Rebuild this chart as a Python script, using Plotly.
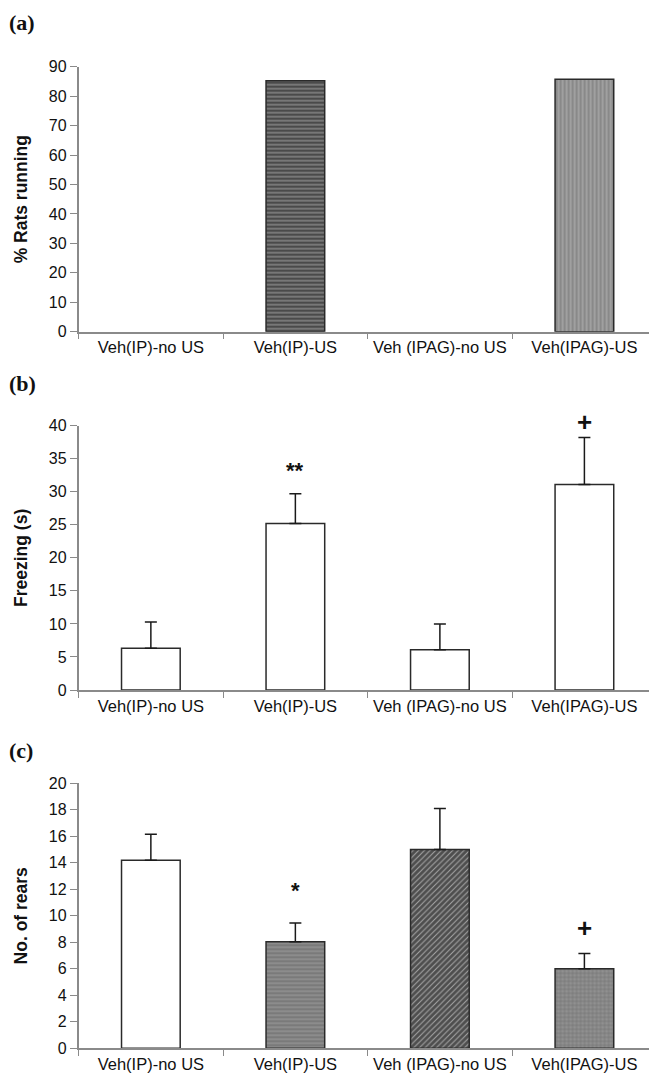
import plotly.graph_objects as go
from plotly.subplots import make_subplots

categories = ["Veh(IP)-no US", "Veh(IP)-US", "Veh (IPAG)-no US", "Veh(IPAG)-US"]

running_pct = [0, 85.2, 0, 85.7]

freezing_mean = [6.3, 25.2, 6.1, 31.1]
freezing_sem = [4.0, 4.5, 3.9, 7.1]

rears_mean = [14.2, 8.05, 15.0, 6.0]
rears_sem = [1.95, 1.4, 3.1, 1.15]

freezing_marks = ["", "**", "", "+"]
freezing_mark_y = [0, 33.2, 0, 40.6]
rears_marks = ["", "*", "", "+"]
rears_mark_y = [0, 11.9, 0, 9.1]

H = 1081.0
def py(px):
    return 1 - px / H

fig = make_subplots(rows=3, cols=1)

xdom = [78.6 / 649, 1.0]
ydoms = [
    [py(331.7), py(66.7)],
    [py(690.0), py(425.7)],
    [py(1048.3), py(783.3)],
]

bar_w = 0.406
lw_a = [0 if v == 0 else 1.5 for v in running_pct]

# (a)
fig.add_trace(go.Bar(
    x=categories, y=running_pct, width=bar_w,
    marker=dict(
        color=["white", "#4a4a4a", "white", "#a0a0a0"],
        line=dict(color="#2a2a2a", width=lw_a),
        pattern=dict(shape=["", "-", "", "|"],
                     fgcolor=["#ffffff", "#9a9a9a", "#ffffff", "#d2d2d2"],
                     size=4, solidity=0.25),
    ),
    showlegend=False,
), row=1, col=1)

# (b)
fig.add_trace(go.Bar(
    x=categories, y=freezing_mean, width=bar_w,
    marker=dict(color="white", line=dict(color="#2a2a2a", width=1.5)),
    error_y=dict(type="data", array=freezing_sem, arrayminus=[0, 0, 0, 0],
                 symmetric=False, color="#1a1a1a", thickness=1.5, width=6),
    showlegend=False,
), row=2, col=1)

# (c)
fig.add_trace(go.Bar(
    x=categories, y=rears_mean, width=bar_w,
    marker=dict(
        color=["white", "#8c8c8c", "#4e4e4e", "#909090"],
        line=dict(color="#2a2a2a", width=1.5),
        pattern=dict(shape=["", "-", "/", "+"],
                     fgcolor=["#ffffff", "#c4c4c4", "#b0b0b0", "#c8c8c8"],
                     size=4, solidity=0.25),
    ),
    error_y=dict(type="data", array=rears_sem, arrayminus=[0, 0, 0, 0],
                 symmetric=False, color="#1a1a1a", thickness=1.5, width=6),
    showlegend=False,
), row=3, col=1)

xtickfont = dict(family="Liberation Sans, Arial", size=16.5, color="#111111")
ytickfont = dict(family="Liberation Sans, Arial", size=16, color="#111111")
titlefont = dict(family="Liberation Sans, Arial", size=17.5, color="#111111")

ytitles = ["<b>% Rats running</b>", "<b>Freezing (s)</b>", "<b>No. of rears</b>"]
yranges = [[0, 90], [0, 40], [0, 20]]
ydticks = [10, 5, 2]

for i in range(3):
    r = i + 1
    fig.update_xaxes(
        row=r, col=1, domain=xdom, type="category", range=[-0.5, 3.447],
        showline=True, linecolor="#8a8a8a", linewidth=1.5,
        ticks="outside", tickson="boundaries", ticklen=6, tickcolor="#8a8a8a",
        tickfont=xtickfont, tickangle=0, showgrid=False, zeroline=False, automargin=False,
    )
    fig.update_yaxes(
        row=r, col=1, domain=ydoms[i], range=yranges[i], dtick=ydticks[i],
        showline=True, linecolor="#8a8a8a", linewidth=1.5,
        ticks="outside", ticklen=7, tickcolor="#8a8a8a",
        tickfont=ytickfont, showgrid=False, zeroline=False, automargin=False,
        title=dict(text=ytitles[i], font=titlefont, standoff=17),
    )

# panel letters
for lab, ypx in [("(a)", 22), ("(b)", 383), ("(c)", 750)]:
    fig.add_annotation(
        text="<b>" + lab + "</b>", xref="paper", yref="paper",
        x=7 / 649, y=py(ypx), xanchor="left", yanchor="middle",
        showarrow=False,
        font=dict(family="Liberation Serif, Times New Roman", size=22, color="#111111"),
    )

# significance marks
for cat, m, yv in zip(categories, freezing_marks, freezing_mark_y):
    if m:
        fig.add_annotation(text="<b>" + m + "</b>", x=cat, y=yv / 40.0, xref="x2", yref="y2 domain",
                           showarrow=False, yanchor="middle",
                           font=dict(family="Liberation Sans, Arial", size=26 if m == "+" else 22, color="#111111"))
for cat, m, yv in zip(categories, rears_marks, rears_mark_y):
    if m:
        fig.add_annotation(text="<b>" + m + "</b>", x=cat, y=yv / 20.0, xref="x3", yref="y3 domain",
                           showarrow=False, yanchor="middle",
                           font=dict(family="Liberation Sans, Arial", size=26 if m == "+" else 22, color="#111111"))

fig.update_layout(
    width=649, height=1081,
    margin=dict(l=0, r=0, t=0, b=0),
    paper_bgcolor="white", plot_bgcolor="white",
    bargap=0.6,
)

fig.write_html("out.html", config={"displayModeBar": False},
               post_script="document.body.style.margin='0';document.body.style.overflow='hidden';")
